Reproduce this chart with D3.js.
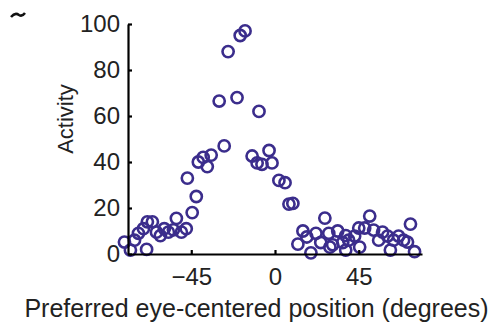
<!DOCTYPE html>
<html>
<head>
<meta charset="utf-8">
<script src="https://cdn.jsdelivr.net/npm/d3@7/dist/d3.min.js"></script>
<style>
  html, body { margin: 0; padding: 0; background: #fff; }
  svg { display: block; font-family: "Liberation Sans", Arial, Helvetica, sans-serif; }
</style>
</head>
<body>
<svg id="chart" width="497" height="324"></svg>
<script>
// Preferred eye-centered position of each unit (degrees)
const positions = [
  -80.9, -77.7, -75.5, -73.4, -70.7, -68.6, -65.9, -63.7, -61.6, -59.5,
  -57.3, -54.6, -53.0, -50.3, -47.7, -44.5, -42.3, -47.1, -41.2, -38.6,
  -36.4, -34.3, -27.3, -30.0, -20.4, -25.2, -18.7, -16.1, -8.6, -12.3,
  -9.6, -7.0, -3.2, -1.6, 2.1, 5.4, 7.5, 9.6, 12.3, 15.0,
  17.1, 19.3, 22.0, 24.6, 26.8, 28.9, 31.0, 33.7, 36.4, 38.0,
  39.6, 42.8, 45.0, 48.2, 50.9, 53.0, 55.7, 57.8, 60.5, 63.7,
  66.4, 69.1, 71.2, 72.8, 75.0, 62.0, 45.5, -69.0, 29.5, 38.0
];
// Activity of each unit
const activity = [
  5.2, 1.7, 6, 9, 11, 14, 14, 9.5, 8, 11,
  9.5, 10.5, 15.5, 9.5, 11, 18, 25, 33, 40, 42,
  38, 43, 47, 66.5, 68, 88, 95, 97, 62, 42.6,
  39.6, 39, 45, 39.6, 32, 31, 21.7, 22, 4.3, 10,
  7.4, 0.5, 9, 5, 15.6, 9, 4, 10, 5, 1.7,
  6, 7.8, 11.3, 11.3, 16.5, 10.4, 6, 9.5, 7.8, 6,
  7.8, 6, 5.2, 13, 1, 1.7, 3, 2, 3, 8
];
const xTicks = [-45, 0, 45];
const yTicks = [0, 20, 40, 60, 80, 100];

const svg = d3.select("#chart");
const plotLeft = 128, plotRight = 422, plotTop = 24, plotBottom = 254;

const x = d3.scaleLinear().domain([-79, 79]).range([plotLeft, plotRight]);
const y = d3.scaleLinear().domain([0, 100]).range([plotBottom, plotTop]);

const ink = "#3b2d8c";
const textInk = "#222";

// Points
svg.append("g")
  .selectAll("circle")
  .data(positions.map((p, i) => ({ p, a: activity[i] })))
  .join("circle")
  .attr("cx", d => x(d.p))
  .attr("cy", d => y(d.a))
  .attr("r", 5.6)
  .attr("fill", "none")
  .attr("stroke", ink)
  .attr("stroke-width", 2.6);

// Y axis with inward ticks
const yAxis = svg.append("g")
  .attr("transform", `translate(${plotLeft},0)`)
  .call(d3.axisLeft(y).tickValues(yTicks).tickSizeInner(-4).tickSizeOuter(0).tickPadding(8));
yAxis.select(".domain").attr("stroke", "#000").attr("stroke-width", 2.2);
yAxis.selectAll(".tick line").attr("stroke", "#000").attr("stroke-width", 2.2);
yAxis.selectAll(".tick text")
  .attr("font-size", 24)
  .attr("fill", textInk)
  .attr("font-family", "Liberation Sans, Arial, sans-serif");

// X axis with inward ticks
const xAxis = svg.append("g")
  .attr("transform", `translate(0,${plotBottom})`)
  .call(d3.axisBottom(x).tickValues(xTicks).tickSizeInner(-4).tickSizeOuter(0).tickPadding(14)
    .tickFormat(d => d < 0 ? "\u2212" + Math.abs(d) : String(d)));
xAxis.select(".domain").attr("stroke", "#000").attr("stroke-width", 2.2);
xAxis.selectAll(".tick line").attr("stroke", "#000").attr("stroke-width", 2.2);
xAxis.selectAll(".tick text")
  .attr("font-size", 24)
  .attr("fill", textInk)
  .attr("font-family", "Liberation Sans, Arial, sans-serif");

// Axis titles
svg.append("text")
  .attr("transform", "translate(73,119) rotate(-90)")
  .attr("text-anchor", "middle")
  .attr("font-size", 22)
  .attr("fill", textInk)
  .text("Activity");

svg.append("text")
  .attr("x", 256.5)
  .attr("y", 317)
  .attr("text-anchor", "middle")
  .attr("font-size", 25)
  .attr("fill", textInk)
  .text("Preferred eye-centered position (degrees)");

// Remnant of the panel letter at the top-left corner
svg.append("path")
  .attr("d", "M11,17 Q15,12 19,15 Q22,17 25,13")
  .attr("fill", "none")
  .attr("stroke", "#111")
  .attr("stroke-width", 2.5);
</script>
</body>
</html>
